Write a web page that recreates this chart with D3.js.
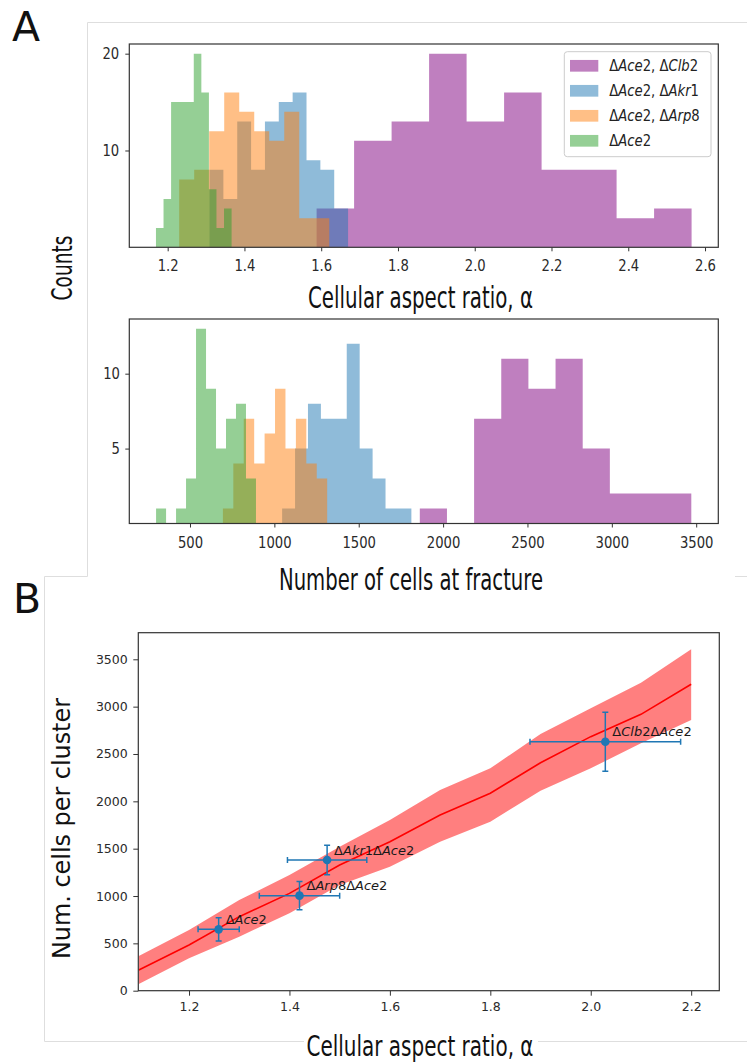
<!DOCTYPE html>
<html>
<head>
<meta charset="utf-8">
<script src="https://cdn.jsdelivr.net/npm/d3@7/dist/d3.min.js"></script>
<style>
  body { margin: 0; background: #fff; }
  svg { display: block; font-family: 'DejaVu Sans', sans-serif; }
</style>
</head>
<body>
<svg id="figure" width="747" height="1064"></svg>
<script>
// ---- values ----
const genotypes = ['ΔAce2, ΔClb2', 'ΔAce2, ΔAkr1', 'ΔAce2, ΔArp8', 'ΔAce2'];
const genotypeColors = ['purple', '#1f77b4', '#ff7f0e', '#2ca02c'];

// top histogram, cellular aspect ratio: first bin edge, bin width, counts
const alphaFirstEdge = [1.588, 1.309, 1.230, 1.1695];
const alphaBinWidth = [0.0977, 0.0361, 0.0391, 0.0197];
const alphaCounts = [
  [4, 11, 13, 20, 13, 16, 8, 8, 3, 4],
  [8, 5, 13, 8, 13, 15, 16, 9, 8, 4],
  [7, 8, 12, 16, 14, 12, 11, 14, 3, 3],
  [2, 5, 15, 15, 15, 20, 16, 6, 2, 4]
];

// bottom histogram, number of cells at fracture
const cellsFirstEdge = [1862, 1046, 695, 299];
const cellsBinWidth = [160.9, 76.6, 61.8, 59.2];
const cellsCounts = [
  [1, 0, 7, 11, 9, 11, 5, 2, 2, 2],
  [1, 5, 8, 7, 7, 12, 5, 3, 1, 1],
  [1, 4, 7, 4, 6, 9, 5, 7, 4, 3],
  [1, 0, 1, 3, 13, 9, 5, 7, 8, 3]
];

const alphaTicks = [1.2, 1.4, 1.6, 1.8, 2.0, 2.2, 2.4, 2.6];
const alphaCountTicks = [10, 20];
const cellsTicks = [500, 1000, 1500, 2000, 2500, 3000, 3500];
const cellsCountTicks = [5, 10];

// panel B: model curve with its band, and the measured strains
const fitAlpha = [1.1, 1.2, 1.3, 1.4, 1.5, 1.6, 1.7, 1.8, 1.9, 2.0, 2.1, 2.2];
const fitMean = [219, 483, 782, 1028, 1328, 1574, 1856, 2085, 2408, 2683, 2919, 3236];
const fitLower = [71, 342, 571, 817, 1116, 1310, 1574, 1785, 2112, 2349, 2613, 2859];
const fitUpper = [366, 642, 958, 1222, 1521, 1803, 2120, 2349, 2711, 2982, 3253, 3606];

const strains = ['ΔAce2', 'ΔArp8ΔAce2', 'ΔAkr1ΔAce2', 'ΔClb2ΔAce2'];
const strainAlpha = [1.259, 1.42, 1.475, 2.029];
const strainAlphaErr = [0.041, 0.08, 0.079, 0.15];
const strainCells = [648, 1004, 1380, 2630];
const strainCellsErr = [123, 150, 155, 312];

const bTicksX = [1.2, 1.4, 1.6, 1.8, 2.0, 2.2];
const bTicksY = [0, 500, 1000, 1500, 2000, 2500, 3000, 3500];

// ---- drawing ----
const svg = d3.select('#figure');

// light frames left over from the figure panels
svg.append('path')
  .attr('d', 'M87.5,22.5H747M87.5,22.5V576.5M44.5,576.5H87.5M735,576.5H747M44.5,576.5V1041.5M44.5,1041.5H304M538,1041.5H747')
  .attr('fill', 'none').attr('stroke', '#dedede').attr('stroke-width', 1);

// gene names: letters italic, Δ and digits upright (mathtext style)
function geneText(sel, label) {
  label.match(/[A-Za-z]+|[^A-Za-z]+/g).forEach(p => {
    sel.append('tspan').text(p).attr('font-style', /^[A-Za-z]+$/.test(p) ? 'italic' : null);
  });
}

function bigLabel(txt, x, y, len, size, rotate) {
  svg.append('text')
    .attr('transform', `translate(${x},${y})` + (rotate ? ' rotate(-90)' : ''))
    .attr('text-anchor', 'middle')
    .attr('font-size', size)
    .attr('textLength', len)
    .attr('lengthAdjust', 'spacingAndGlyphs')
    .attr('fill', '#111')
    .text(txt);
}

function histPath(x, y, first, width, counts) {
  const pts = counts.map((c, i) => [first + i * width, c]);
  pts.push([first + counts.length * width, counts[counts.length - 1]]);
  return d3.area().x(d => x(d[0])).y0(y(0)).y1(d => y(d[1])).curve(d3.curveStepAfter)(pts);
}

function axes(g, x, y, o) {
  const [x0, x1] = x.range(), [y0, y1] = y.range();
  const ax = g.append('g').attr('transform', `translate(0,${y0})`)
    .call(d3.axisBottom(x).tickValues(o.xTicks).tickFormat(o.xFmt)
      .tickSize(o.tick).tickPadding(o.xPad));
  const ay = g.append('g').attr('transform', `translate(${x0},0)`)
    .call(d3.axisLeft(y).tickValues(o.yTicks).tickFormat(d3.format('d'))
      .tickSize(o.tick).tickPadding(o.yPad));
  [ax, ay].forEach(a => {
    a.select('.domain').remove();
    a.selectAll('.tick line').attr('stroke', '#333');
    a.selectAll('.tick text').attr('font-size', o.font).attr('fill', '#2a2a2a')
      .attr('font-family', 'DejaVu Sans').attr('transform', `scale(${o.sx},1)`);
  });
  g.append('rect').attr('x', x0).attr('y', y1).attr('width', x1 - x0).attr('height', y0 - y1)
    .attr('fill', 'none').attr('stroke', '#333').attr('stroke-width', 1.2);
}

// ---- panel A, top ----
const xA = d3.scaleLinear([1.1, 2.6346], [129.3, 718.3]);
const yA = d3.scaleLinear([0, 21], [247.3, 44]);
const gA = svg.append('g');
alphaCounts.forEach((counts, k) => {
  gA.append('path').attr('d', histPath(xA, yA, alphaFirstEdge[k], alphaBinWidth[k], counts))
    .attr('fill', genotypeColors[k]).attr('fill-opacity', 0.5);
});
axes(gA, xA, yA, { xTicks: alphaTicks, yTicks: alphaCountTicks, xFmt: d3.format('.1f'),
  tick: 4, xPad: 8.7, yPad: 7.4, font: 15, sx: 0.88 });

// legend
const leg = gA.append('g');
leg.append('rect').attr('x', 564.3).attr('y', 51.7).attr('width', 146.7).attr('height', 105)
  .attr('rx', 3).attr('fill', '#fff').attr('fill-opacity', 0.8).attr('stroke', '#cccccc');
genotypes.forEach((name, i) => {
  const cy = 65.8 + 25 * i;
  leg.append('rect').attr('x', 570).attr('y', cy - 5.85).attr('width', 28.3).attr('height', 11.7)
    .attr('fill', genotypeColors[i]).attr('fill-opacity', 0.5);
  const t = leg.append('text').attr('transform', `translate(609.3,${cy + 5.5}) scale(0.88,1)`)
    .attr('font-size', 15).attr('fill', '#222');
  geneText(t, name);
});

// ---- panel A, bottom ----
const xN = d3.scaleLinear([140.3, 3631], [129.3, 718.3]);
const yN = d3.scaleLinear([0, 13.65], [523.5, 319]);
const gN = svg.append('g');
cellsCounts.forEach((counts, k) => {
  gN.append('path').attr('d', histPath(xN, yN, cellsFirstEdge[k], cellsBinWidth[k], counts))
    .attr('fill', genotypeColors[k]).attr('fill-opacity', 0.5);
});
axes(gN, xN, yN, { xTicks: cellsTicks, yTicks: cellsCountTicks, xFmt: d3.format('d'),
  tick: 4, xPad: 9.5, yPad: 6.6, font: 15, sx: 0.88 });

// ---- panel B ----
const xB = d3.scaleLinear([1.099, 2.256], [138.3, 719.3]);
const yB = d3.scaleLinear([0, 3781], [990.7, 632.7]);
const gB = svg.append('g');
svg.append('clipPath').attr('id', 'clipB').append('rect')
  .attr('x', 138.3).attr('y', 632.7).attr('width', 581).attr('height', 358);
const plotB = gB.append('g').attr('clip-path', 'url(#clipB)');
plotB.append('path').datum(fitAlpha.map((a, i) => i))
  .attr('d', d3.area().x(i => xB(fitAlpha[i])).y0(i => yB(fitLower[i])).y1(i => yB(fitUpper[i])))
  .attr('fill', 'red').attr('fill-opacity', 0.5);
plotB.append('path').datum(fitAlpha.map((a, i) => i))
  .attr('d', d3.line().x(i => xB(fitAlpha[i])).y(i => yB(fitMean[i])))
  .attr('fill', 'none').attr('stroke', 'red').attr('stroke-width', 1.6);

const errColor = '#1f77b4';
strains.forEach((name, i) => {
  const cx = xB(strainAlpha[i]), cy = yB(strainCells[i]);
  const xl = xB(strainAlpha[i] - strainAlphaErr[i]), xr = xB(strainAlpha[i] + strainAlphaErr[i]);
  const yt = yB(strainCells[i] + strainCellsErr[i]), yb = yB(strainCells[i] - strainCellsErr[i]);
  const e = plotB.append('g').attr('stroke', errColor).attr('stroke-width', 1.5).attr('fill', 'none');
  e.append('path').attr('d', `M${xl},${cy}H${xr}M${cx},${yt}V${yb}` +
    `M${xl},${cy - 3}V${cy + 3}M${xr},${cy - 3}V${cy + 3}M${cx - 3},${yt}H${cx + 3}M${cx - 3},${yb}H${cx + 3}`);
  plotB.append('circle').attr('cx', cx).attr('cy', cy).attr('r', 4.3).attr('fill', errColor);
  const t = gB.append('text').attr('x', cx + 7).attr('y', cy - 5.5)
    .attr('font-size', 13).attr('fill', '#1a1a1a');
  geneText(t, name);
});
axes(gB, xB, yB, { xTicks: bTicksX, yTicks: bTicksY, xFmt: d3.format('.1f'),
  tick: 5, xPad: 6, yPad: 5.6, font: 12.5, sx: 1 });

// ---- labels ----
bigLabel('Counts', 72, 268, 65, 28, true);
bigLabel('Cellular aspect ratio, α', 420.5, 308, 225, 30);
bigLabel('Number of cells at fracture', 411, 590, 264, 30);
bigLabel('Num. cells per cluster', 70, 828.5, 261, 24, true);
bigLabel('Cellular aspect ratio, α', 420, 1056, 227, 28);

svg.append('text').attr('x', 12).attr('y', 41).attr('font-size', 41).attr('fill', '#111').text('A');
svg.append('text').attr('x', 13).attr('y', 613).attr('font-size', 41).attr('fill', '#111').text('B');
</script>
</body>
</html>
